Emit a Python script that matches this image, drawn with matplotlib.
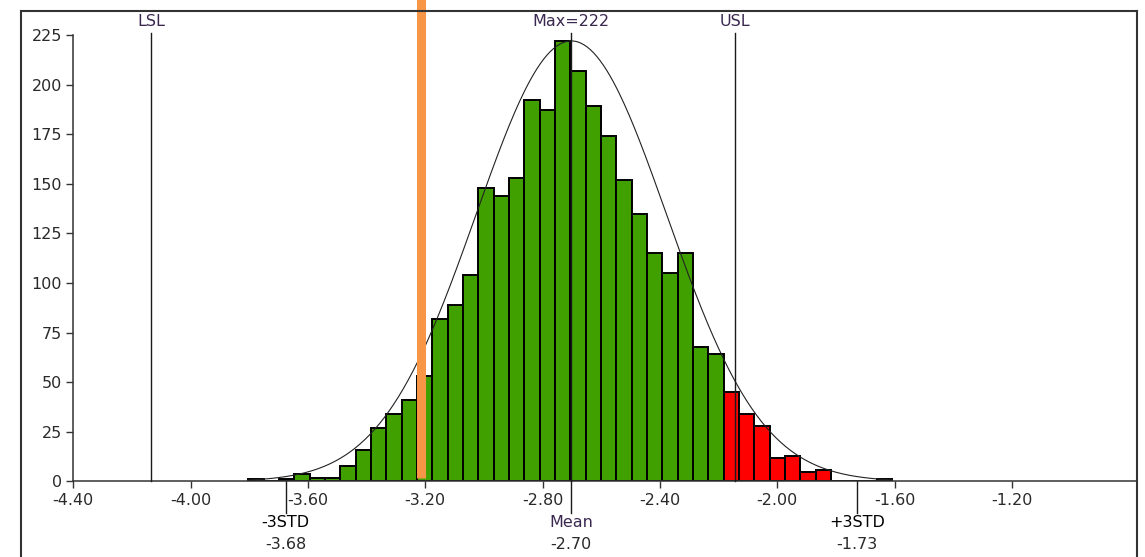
import numpy as np
import matplotlib
matplotlib.use("Agg")
import matplotlib.pyplot as plt
from matplotlib.lines import Line2D

# histogram data (42 equal bins)
bin_lo = -3.803
bin_hi = -1.608
counts = [1, 0, 1, 4, 2, 2, 8, 16, 27, 34,
          41, 53, 82, 89, 104, 148, 144, 153, 192, 187,
          222, 207, 189, 174, 152, 135, 115, 105, 115, 68,
          64, 45, 34, 28, 12, 13, 5, 6, 0, 0,
          0, 1]

# statistics / limits
mean = -2.702
std = 0.3245
lsl = -4.135
usl = -2.144
marker = -3.213

xticks = [-4.40, -4.00, -3.60, -3.20, -2.80, -2.40, -2.00, -1.60, -1.20]
yticks = [0, 25, 50, 75, 100, 125, 150, 175, 200, 225]

green = "#40A000"
red = "#FF0000"
orange = "#F79646"
txt = "#2a2a2a"
lab = "#3a2850"
fs = 11.5

plt.rcParams["font.family"] = "DejaVu Sans"

fig = plt.figure(figsize=(11.45, 5.57), dpi=100)
ax = fig.add_axes([0.0640, 0.1356, 0.9281, 0.8016])

counts = np.array(counts)
edges = np.linspace(bin_lo, bin_hi, len(counts) + 1)
width = edges[1] - edges[0]
colors = [red if (r > usl or l < lsl) else green for l, r in zip(edges[:-1], edges[1:])]

ax.bar(edges[:-1], counts, width=width, align="edge", color=colors,
       edgecolor="black", linewidth=1.4, zorder=2)

# fitted normal curve scaled to max bar
peak = counts.max()
xc = np.linspace(bin_lo, bin_hi, 400)
yc = peak * np.exp(-0.5 * ((xc - mean) / std) ** 2)
ax.plot(xc, yc, color="#222222", lw=0.8, zorder=3)

# spec limits and mean
for xv in (lsl, usl, mean):
    ax.plot([xv, xv], [0, 226], color="#1a1a1a", lw=1.0, zorder=4, clip_on=False)
ax.text(lsl, 232, "LSL", ha="center", va="center", fontsize=fs, color=lab)
ax.text(usl, 232, "USL", ha="center", va="center", fontsize=fs, color=lab)
ax.text(mean, 232, f"Max={peak}", ha="center", va="center", fontsize=fs, color=lab)

# orange marker line
ax.plot([marker, marker], [1.5, 250], color=orange, lw=6.5, zorder=5,
        clip_on=False, solid_capstyle="butt")

# +/-3 std markers below axis
below = [(mean - 3 * std, "-3STD", "black"), (mean, "Mean", lab),
         (mean + 3 * std, "+3STD", "black")]
for xv, name, c in below:
    ax.plot([xv, xv], [0, -16], color="#1a1a1a", lw=1.0, clip_on=False)
    ax.text(xv, -20.7, name, ha="center", va="center", fontsize=fs, color=c)
    ax.text(xv, -32.0, f"{xv:.2f}", ha="center", va="center", fontsize=fs, color=txt)

ax.set_xlim(-4.40, -0.777)
ax.set_ylim(0, 225)
ax.set_xticks(xticks)
ax.set_xticklabels([f"{v:.2f}" for v in xticks])
ax.set_yticks(yticks)

for s in ("top", "right"):
    ax.spines[s].set_visible(False)
for s in ("left", "bottom"):
    ax.spines[s].set_color("#333333")
    ax.spines[s].set_linewidth(1.1)
ax.tick_params(axis="both", colors="#333333", labelcolor=txt, labelsize=fs,
               length=5, width=1.0, pad=3)

# outer frame (cropped screenshot border)
fx0, fx1, fy1 = 20.5 / 1145, 1136.5 / 1145, 1 - 10.5 / 557
for xs, ys in (([fx0, fx0], [0, fy1]), ([fx0, fx1], [fy1, fy1]), ([fx1, fx1], [fy1, 0])):
    fig.add_artist(Line2D(xs, ys, transform=fig.transFigure, color="#333333", lw=1.5))

fig.savefig("out.png", dpi=100)
